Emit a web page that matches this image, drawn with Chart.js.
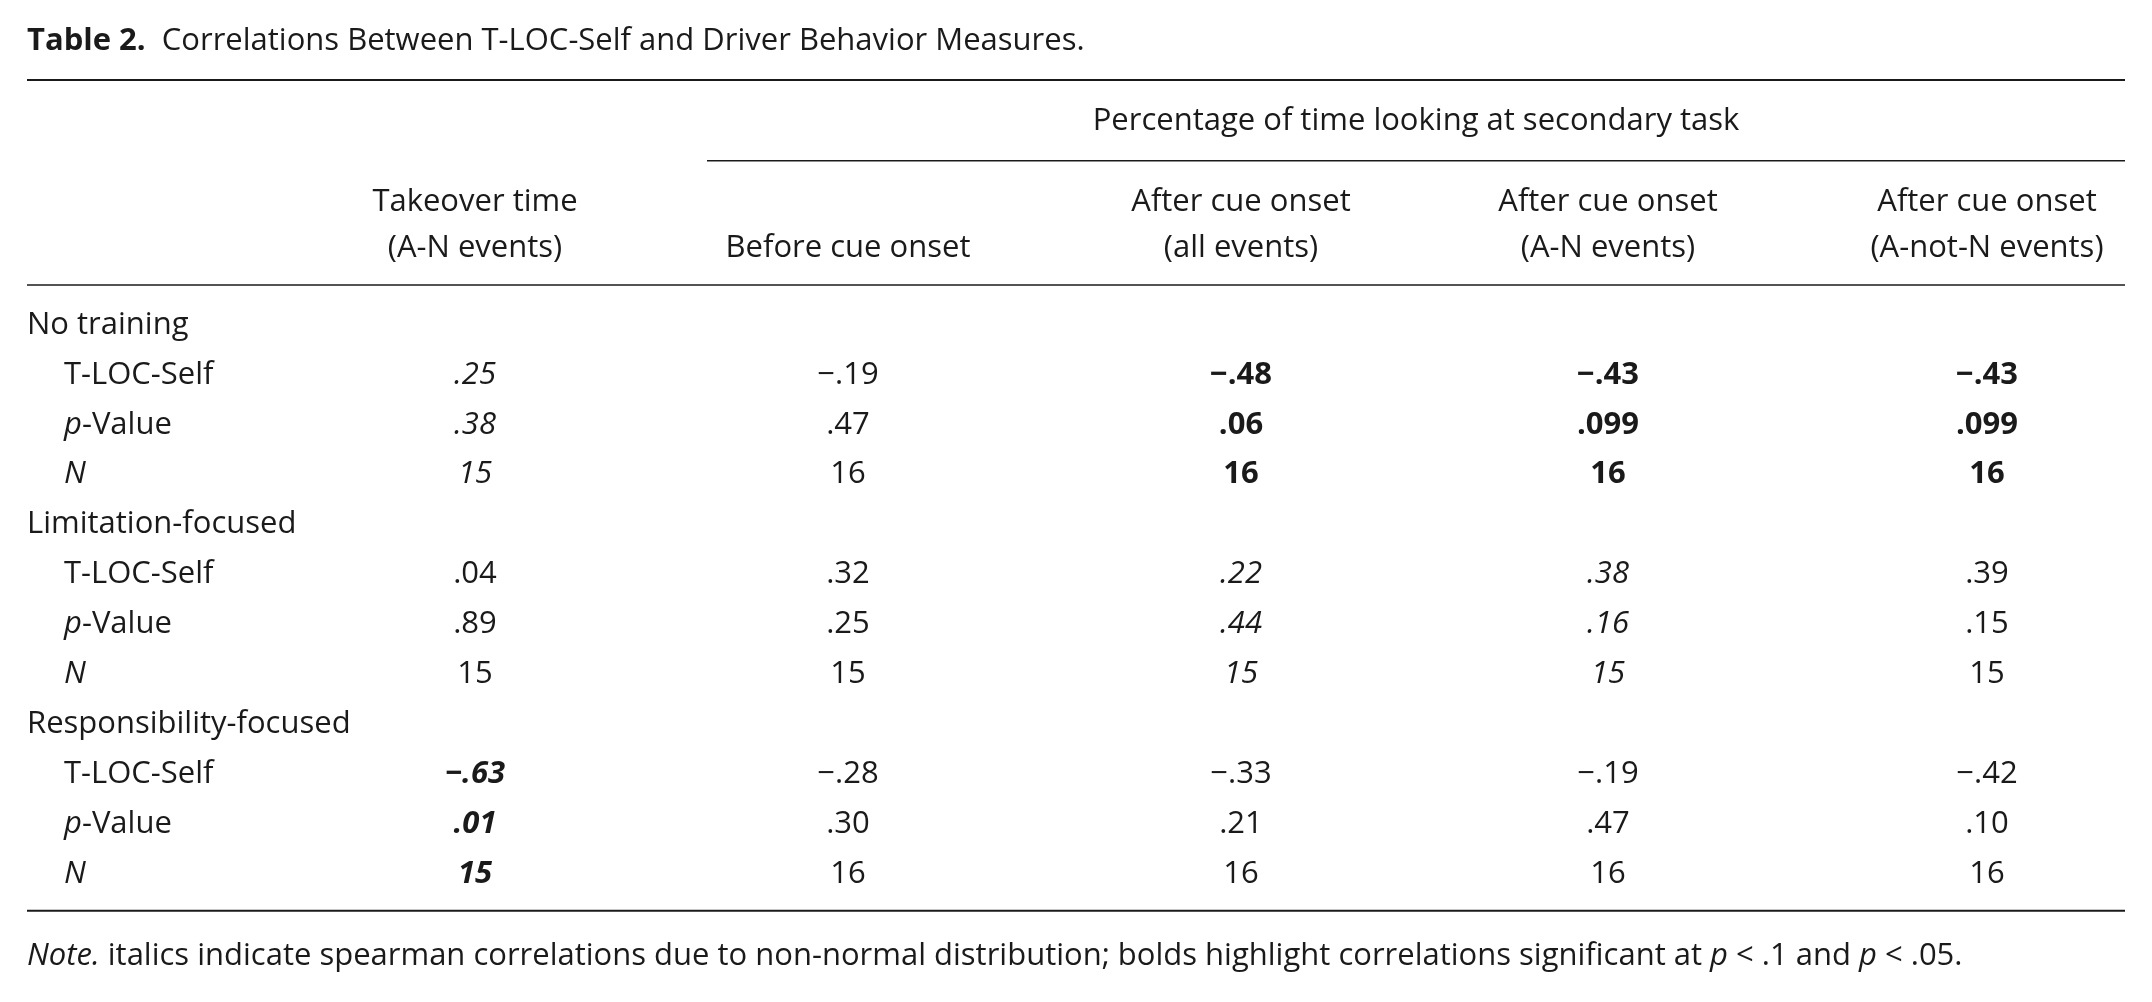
<!DOCTYPE html>
<html><head><meta charset="utf-8">
<script src="https://cdn.jsdelivr.net/npm/chart.js@4"></script>
<style>html,body{margin:0;padding:0;background:#fff}#wrap{width:2152px;height:1002px}</style>
</head><body><div id="wrap"><canvas id="c"></canvas></div>
<script>
const columnCenters = [475, 848, 1241, 1608, 1987];
const groups = ["No training", "Limitation-focused", "Responsibility-focused"];
const rowLabels = ["T-LOC-Self", "p-Value", "N"];
const values = [
  [".25","−.19","−.48","−.43","−.43"],
  [".38",".47",".06",".099",".099"],
  ["15","16","16","16","16"],
  [".04",".32",".22",".38",".39"],
  [".89",".25",".44",".16",".15"],
  ["15","15","15","15","15"],
  ["−.63","−.28","−.33","−.19","−.42"],
  [".01",".30",".21",".47",".10"],
  ["15","16","16","16","16"]
];
const styles = [
  ["i","n","b","b","b"],["i","n","b","b","b"],["i","n","b","b","b"],
  ["n","n","i","i","n"],["n","n","i","i","n"],["n","n","i","i","n"],
  ["bi","n","n","n","n"],["bi","n","n","n","n"],["bi","n","n","n","n"]
];
const headerLine1 = ["Takeover time","","After cue onset","After cue onset","After cue onset"];
const headerLine2 = ["(A-N events)","Before cue onset","(all events)","(A-N events)","(A-not-N events)"];
const spanner = "Percentage of time looking at secondary task";

const FS = 31, FAM = "'Open Sans', Lato, sans-serif";
function font(s){return (s.includes("i")?"italic ":"")+(s.includes("b")?"bold ":"")+FS+"px "+FAM;}

const tablePlugin = {
  id:'table',
  afterDraw(chart){
    const ctx = chart.ctx, X = chart.scales.x, Y = chart.scales.y;
    const px = v=>X.getPixelForValue(v), py = v=>Y.getPixelForValue(v);
    ctx.save(); ctx.fillStyle="#1a1a1a"; ctx.strokeStyle="#1a1a1a"; ctx.textBaseline="middle";
    function runs(parts, x, y){ ctx.textAlign="left"; for(const [t,s] of parts){ctx.font=font(s);ctx.fillText(t,x,y);x+=ctx.measureText(t).width;} }
    function hline(y,x0,x1,w){ctx.lineWidth=w;ctx.beginPath();ctx.moveTo(px(x0),py(y));ctx.lineTo(px(x1),py(y));ctx.stroke();}
    runs([["Table 2.","b"],["  Correlations Between T-LOC-Self and Driver Behavior Measures.","n"]], px(27), py(-5.69));
    hline(-4.91,27,2125,2);
    ctx.font=font("n"); ctx.textAlign="center";
    ctx.fillText(spanner, px((707+2125)/2), py(-4.09));
    hline(-3.29,707,2125,1.5);
    columnCenters.forEach((c,j)=>{ ctx.font=font("n"); ctx.textAlign="center";
      if(headerLine1[j]) ctx.fillText(headerLine1[j], px(c), py(-2.46));
      ctx.fillText(headerLine2[j], px(c), py(-1.54)); });
    hline(-0.80,27,2125,1.5);
    let r=0;
    groups.forEach((g,gi)=>{
      runs([[g,"n"]], px(27), py(r)); r++;
      rowLabels.forEach((lab,li)=>{
        if(li===1) runs([["p","i"],["-Value","n"]], px(64), py(r));
        else if(li===2) runs([["N","i"]], px(64), py(r));
        else runs([[lab,"n"]], px(64), py(r));
        const vi = gi*3+li;
        values[vi].forEach((v,j)=>{ ctx.font=font(styles[vi][j]); ctx.textAlign="center"; ctx.fillText(v, px(columnCenters[j]), py(r)); });
        r++;
      });
    });
    hline(11.74,27,2125,2);
    runs([["Note.","i"],[" italics indicate spearman correlations due to non-normal distribution; bolds highlight correlations significant at ","n"],["p","i"],[" < .1 and ","n"],["p","i"],[" < .05.","n"]], px(27), py(12.66));
    ctx.restore();
  }
};

new Chart(document.getElementById('c'),{
  type:'scatter',
  data:{datasets:[{data:[],pointRadius:0}]},
  options:{responsive:true,maintainAspectRatio:false,animation:false,
    layout:{padding:0},
    plugins:{legend:{display:false},tooltip:{enabled:false}},
    scales:{x:{type:'linear',min:0,max:2152,display:false},
            y:{type:'linear',min:-6.513,max:13.57,reverse:true,display:false}}},
  plugins:[tablePlugin]
});
</script></body></html>
